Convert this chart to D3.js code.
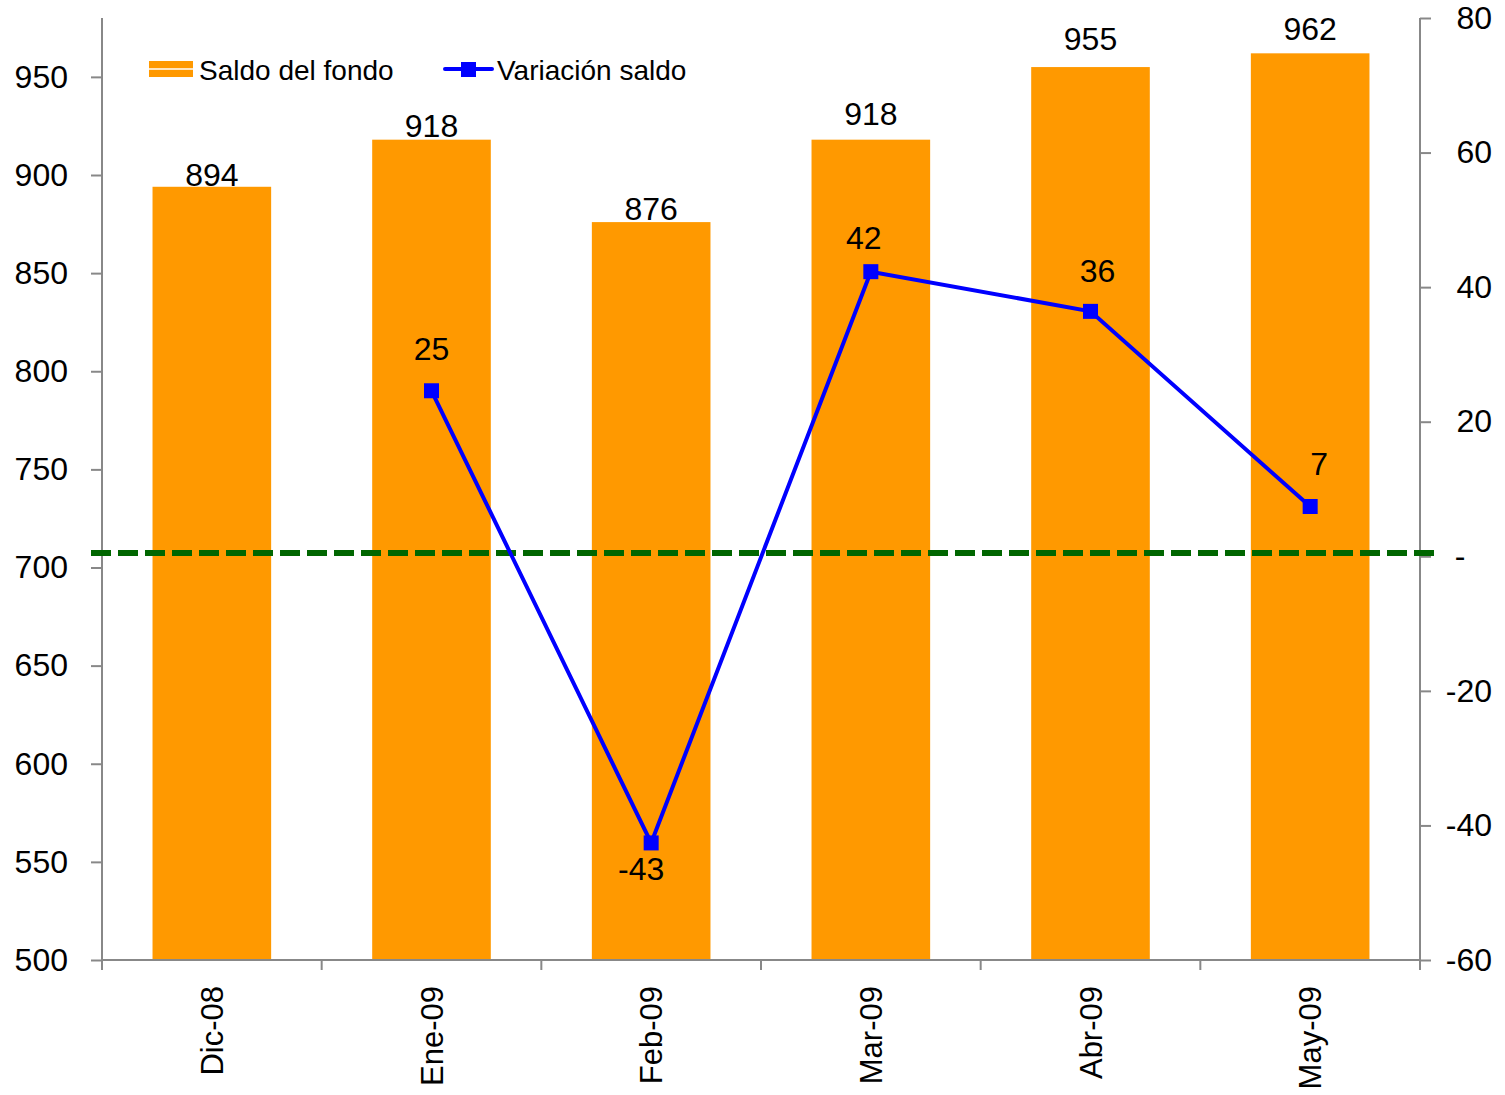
<!DOCTYPE html>
<html>
<head>
<meta charset="utf-8">
<script src="https://cdn.jsdelivr.net/npm/d3@7"></script>
<style>
  body { margin: 0; background: #fff; }
  text { font-family: "Liberation Sans", Arial, sans-serif; fill: #000; }
</style>
</head>
<body>
<div id="chart"></div>
<script>
// data
const months = ["Dic-08", "Ene-09", "Feb-09", "Mar-09", "Abr-09", "May-09"];
const saldo = [894, 918, 876, 918, 955, 962];
const variacion = [null, 24.6, -42.6, 42.3, 36.4, 7.4];
const leftTicks = [500, 550, 600, 650, 700, 750, 800, 850, 900, 950];
const rightTicks = [-60, -40, -20, 0, 20, 40, 60, 80];
const refValue = 0.5;

// label placement (layout only)
const barLabelLift = [1, 3, 2, 15, 17, 13];
const varLabelDx = [0, -10, -7, 7, 9];
const varLabelDy = [-31, 37, -23, -29, -31];

// frame
const width = 1505,
  height = 1095,
  margin = { top: 18, right: 85, bottom: 135, left: 102 },
  plotW = width - margin.left - margin.right,
  plotH = height - margin.top - margin.bottom;

let svg = d3
  .select("#chart")
  .append("svg")
  .attr("width", width)
  .attr("height", height);

let g = svg
  .append("g")
  .attr("transform", "translate(" + margin.left + "," + margin.top + ")");

// scales
let x = d3.scaleBand().domain(months).range([0, plotW]).padding(0);
let yLeft = d3.scaleLinear().domain([500, 980]).range([plotH, 0]);
let yRight = d3.scaleLinear().domain([-60, 80]).range([plotH, 0]);
const barW = x.bandwidth() * 0.54;

// bars
g.selectAll(".bar")
  .data(saldo)
  .enter()
  .append("rect")
  .attr("class", "bar")
  .attr("x", function (d, i) {
    return x(months[i]) + (x.bandwidth() - barW) / 2;
  })
  .attr("width", barW)
  .attr("y", function (d) {
    return yLeft(d);
  })
  .attr("height", function (d) {
    return plotH - yLeft(d);
  })
  .attr("fill", "#FF9900");

// bar labels
g.selectAll(".barlabel")
  .data(saldo)
  .enter()
  .append("text")
  .attr("x", function (d, i) {
    return x(months[i]) + x.bandwidth() / 2;
  })
  .attr("y", function (d, i) {
    return yLeft(d) - barLabelLift[i];
  })
  .attr("text-anchor", "middle")
  .style("font-size", "32px")
  .text(function (d) {
    return d;
  });

// axes
const axisColor = "#888";

let leftAxis = g
  .append("g")
  .call(
    d3.axisLeft(yLeft).tickValues(leftTicks).tickSize(11).tickPadding(23)
  );
leftAxis.select(".domain").attr("d", "M0," + plotH + "V0");

let rightAxis = g
  .append("g")
  .attr("transform", "translate(" + plotW + ",0)")
  .call(
    d3
      .axisRight(yRight)
      .tickValues(rightTicks)
      .tickSize(11)
      .tickPadding(61)
      .tickFormat(function (d) {
        return d == 0 ? "-\u00a0\u00a0\u00a0" : d;
      })
  );
rightAxis.select(".domain").attr("d", "M0," + plotH + "V0");
rightAxis.selectAll("text").attr("text-anchor", "end");

let bottomAxis = g
  .append("g")
  .attr("transform", "translate(0," + plotH + ")")
  .call(d3.axisBottom(x).tickSize(0).tickPadding(0).tickFormat(""));
bottomAxis.select(".domain").attr("d", "M0,0H" + plotW);

// boundary ticks
bottomAxis
  .selectAll(".sep")
  .data(d3.range(months.length + 1))
  .enter()
  .append("line")
  .attr("x1", function (i) {
    return i * x.step();
  })
  .attr("x2", function (i) {
    return i * x.step();
  })
  .attr("y1", 0)
  .attr("y2", 10)
  .attr("stroke", axisColor)
  .attr("stroke-width", 2);

// category labels
g.selectAll(".cat")
  .data(months)
  .enter()
  .append("text")
  .attr("transform", function (d) {
    return (
      "translate(" +
      (x(d) + x.bandwidth() / 2) +
      "," +
      (plotH + 26) +
      ") rotate(-90)"
    );
  })
  .attr("dy", "0.36em")
  .attr("text-anchor", "end")
  .style("font-size", "31px")
  .text(function (d) {
    return d;
  });

[leftAxis, rightAxis, bottomAxis].forEach(function (a) {
  a.selectAll(".domain").attr("stroke", axisColor).attr("stroke-width", 2);
  a.selectAll(".tick line").attr("stroke", axisColor).attr("stroke-width", 2);
  a.selectAll("text")
    .style("font-size", "32px")
    .style("font-family", "'Liberation Sans', Arial, sans-serif")
    .attr("fill", "#000");
});

// dashed reference line
g.append("line")
  .attr("x1", -11)
  .attr("x2", plotW + 21)
  .attr("y1", yRight(refValue))
  .attr("y2", yRight(refValue))
  .attr("stroke", "#006600")
  .attr("stroke-width", 6)
  .attr("stroke-dasharray", "20,7");

// variation line
let lineData = variacion
  .map(function (d, i) {
    return { m: months[i], v: d };
  })
  .filter(function (d) {
    return d.v !== null;
  });

let line = d3
  .line()
  .x(function (d) {
    return x(d.m) + x.bandwidth() / 2;
  })
  .y(function (d) {
    return yRight(d.v);
  });

g.append("path")
  .datum(lineData)
  .attr("d", line)
  .attr("fill", "none")
  .attr("stroke", "#0000FF")
  .attr("stroke-width", 4);

const mk = 15;
g.selectAll(".marker")
  .data(lineData)
  .enter()
  .append("rect")
  .attr("x", function (d) {
    return x(d.m) + x.bandwidth() / 2 - mk / 2;
  })
  .attr("y", function (d) {
    return yRight(d.v) - mk / 2;
  })
  .attr("width", mk)
  .attr("height", mk)
  .attr("fill", "#0000FF");

g.selectAll(".varlabel")
  .data(lineData)
  .enter()
  .append("text")
  .attr("x", function (d, i) {
    return x(d.m) + x.bandwidth() / 2 + varLabelDx[i];
  })
  .attr("y", function (d, i) {
    return yRight(d.v) + varLabelDy[i];
  })
  .attr("text-anchor", "middle")
  .style("font-size", "32px")
  .text(function (d) {
    return Math.round(d.v);
  });

// legend
let legend = svg.append("g");
legend
  .append("rect")
  .attr("x", 149)
  .attr("y", 61)
  .attr("width", 44)
  .attr("height", 16)
  .attr("fill", "#FF9900");
legend
  .append("line")
  .attr("x1", 149)
  .attr("x2", 193)
  .attr("y1", 69)
  .attr("y2", 69)
  .attr("stroke", "#fff")
  .attr("stroke-width", 1.5);
legend
  .append("text")
  .attr("x", 199)
  .attr("y", 80)
  .style("font-size", "28px")
  .text("Saldo del fondo");

legend
  .append("line")
  .attr("x1", 445)
  .attr("x2", 492)
  .attr("y1", 69)
  .attr("y2", 69)
  .attr("stroke", "#0000FF")
  .attr("stroke-width", 4)
  .attr("stroke-linecap", "round");
legend
  .append("rect")
  .attr("x", 461)
  .attr("y", 62)
  .attr("width", 15)
  .attr("height", 15)
  .attr("fill", "#0000FF");
legend
  .append("text")
  .attr("x", 497)
  .attr("y", 80)
  .style("font-size", "28px")
  .text("Variación saldo");
</script>
</body>
</html>
